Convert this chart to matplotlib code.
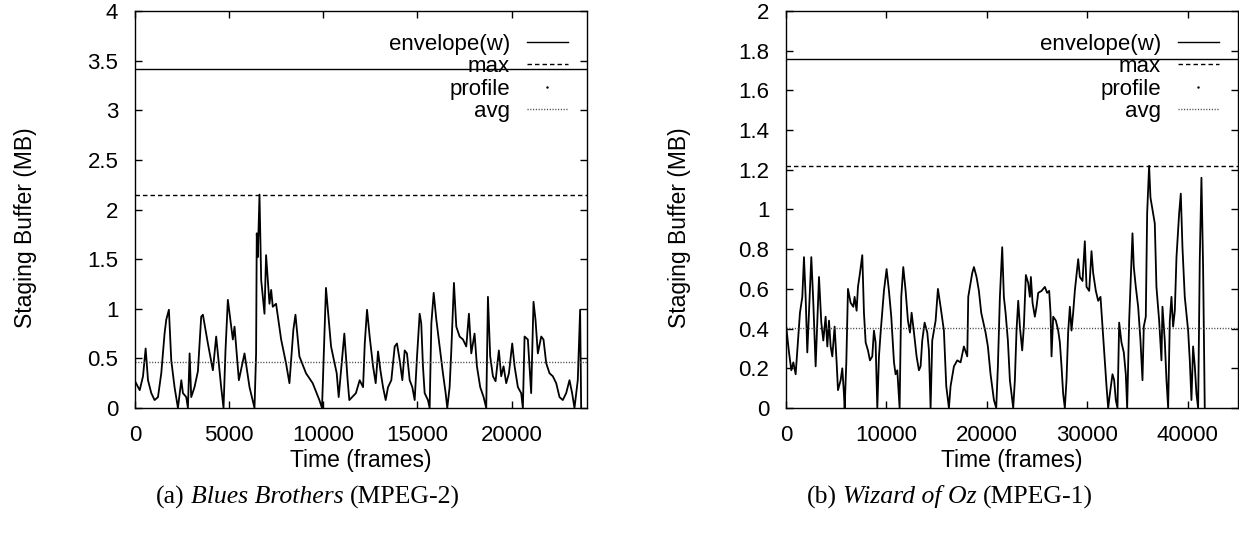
import matplotlib
matplotlib.use("Agg")
import matplotlib.pyplot as plt
from matplotlib.lines import Line2D
from matplotlib.ticker import MultipleLocator, FuncFormatter

plt.rcParams["font.family"] = ["Liberation Sans", "DejaVu Sans"]

# (a) Blues Brothers - staging buffer profile
bb_frames = [0, 250, 425, 565, 690, 865, 1040, 1220, 1395, 1570, 1660, 1800,
             1925, 2100, 2280, 2460, 2545, 2720, 2810, 2900, 2985, 3160, 3340,
             3515, 3605, 3870, 4135, 4310, 4575, 4700, 4805, 4930, 5105, 5195,
             5285, 5515, 5815, 6080, 6345, 6430, 6465, 6520, 6610, 6700, 6875,
             6960, 7140, 7230, 7315, 7490, 7760, 8020, 8200, 8410, 8520, 8730,
             9080, 9435, 9790, 9930, 10140, 10410, 10710, 10815, 11115, 11290,
             11380, 11730, 11930, 12110, 12200, 12320, 12460, 12640, 12780,
             12905, 13030, 13170, 13310, 13435, 13610, 13790, 13910, 14055,
             14195, 14320, 14440, 14585, 14725, 14850, 14975, 15115, 15200,
             15290, 15380, 15555, 15645, 15735, 15860, 16000, 16175, 16350,
             16495, 16580, 16705, 16795, 16935, 17060, 17235, 17415, 17590,
             17730, 17855, 18030, 18155, 18330, 18510, 18650, 18740, 18860,
             19005, 19145, 19320, 19445, 19570, 19710, 19855, 20030, 20155,
             20330, 20505, 20595, 20685, 20860, 21035, 21160, 21265, 21390,
             21570, 21690, 21835, 22010, 22185, 22365, 22540, 22715, 22895,
             23070, 23210, 23335, 23510, 23635, 23690]
bb_mb = [0.27, 0.18, 0.32, 0.60, 0.28, 0.15, 0.08, 0.11, 0.35, 0.75, 0.89, 0.99,
         0.48, 0.21, 0.00, 0.28, 0.15, 0.11, 0.00, 0.55, 0.11, 0.21, 0.37,
         0.92, 0.94, 0.65, 0.38, 0.72, 0.21, 0.00, 0.58, 1.09, 0.82, 0.69,
         0.82, 0.28, 0.55, 0.21, 0.00, 0.55, 1.76, 1.52, 2.15, 1.29, 0.95,
         1.54, 1.05, 1.19, 1.02, 1.05, 0.69, 0.45, 0.25, 0.79, 0.94, 0.52,
         0.35, 0.25, 0.08, 0.00, 1.21, 0.62, 0.35, 0.11, 0.75, 0.28,
         0.08, 0.15, 0.28, 0.21, 0.65, 0.99, 0.72, 0.42, 0.25,
         0.57, 0.38, 0.21, 0.08, 0.21, 0.28, 0.62, 0.65, 0.48,
         0.28, 0.58, 0.55, 0.28, 0.21, 0.08, 0.52, 0.95, 0.85,
         0.42, 0.15, 0.08, 0.00, 0.85, 1.16, 0.89, 0.62, 0.35,
         0.15, 0.00, 0.21, 0.58, 1.26, 0.82, 0.72, 0.69, 0.62,
         0.95, 0.55, 0.75, 0.42, 0.21, 0.11, 0.00, 1.12, 0.52,
         0.32, 0.27, 0.58, 0.32, 0.42, 0.25, 0.35, 0.65, 0.42,
         0.21, 0.15, 0.00, 0.72, 0.69, 0.15, 1.07, 0.89, 0.55,
         0.72, 0.69, 0.45, 0.35, 0.32, 0.25, 0.11, 0.08, 0.15,
         0.28, 0.15, 0.00, 0.28, 0.99, 0.00]
bb_envelope = 3.42
bb_max = 2.15
bb_avg = 0.46

# (b) Wizard of Oz
woz_frames = [0, 20, 130, 300, 530, 730, 960, 1195, 1390, 1625, 1790, 1955,
              2120, 2290, 2520, 2720, 2950, 3120, 3285, 3515, 3715, 3945, 4115,
              4280, 4445, 4610, 4840, 5040, 5175, 5440, 5605, 5770, 5840, 6005,
              6170, 6435, 6700, 6830, 7030, 7165, 7365, 7595, 7760, 7930, 8160,
              8360, 8590, 8755, 8920, 9090, 9255, 9420, 9750, 10015, 10250,
              10480, 10750, 10910, 11080, 11310, 11475, 11675, 11910, 12140,
              12340, 12505, 12740, 13000, 13235, 13400, 13565, 13800, 14065,
              14230, 14395, 14560, 14895, 15125, 15390, 15720, 15955, 16220,
              16385, 16720, 17050, 17380, 17710, 18045, 18145, 18540, 18710,
              18970, 19205, 19435, 19870, 20100, 20365, 20700, 20930, 21095,
              21295, 21525, 21690, 21860, 22090, 22290, 22620, 22785, 22950,
              23120, 23285, 23515, 23680, 23880, 24110, 24280, 24380, 24545,
              24775, 24940, 25110, 25440, 25770, 26000, 26200, 26335, 26435,
              26600, 26865, 27100, 27265, 27430, 27595, 27760, 27925, 28090,
              28260, 28425, 28590, 28755, 29090, 29255, 29520, 29750, 29920,
              30185, 30415, 30580, 30845, 31080, 31310, 31510, 31740, 31910,
              32075, 32240, 32505, 32670, 32835, 33000, 33170, 33400, 33630,
              33830, 33965, 34165, 34495, 34625, 34825, 35060, 35290, 35490,
              35620, 35820, 35955, 36150, 36285, 36485, 36715, 36880, 37150,
              37380, 37480, 37710, 37880, 38045, 38210, 38375, 38540, 38710,
              38875, 39140, 39305, 39470, 39700, 40035, 40200, 40365, 40530,
              40700, 40865, 41030, 41195, 41360, 41525, 41690]
woz_mb = [0.00, 0.41, 0.36, 0.28, 0.19, 0.23, 0.17, 0.34, 0.48, 0.56, 0.76, 0.56,
          0.28, 0.48, 0.76, 0.53, 0.21, 0.44, 0.66, 0.43, 0.34, 0.46, 0.31,
          0.44, 0.31, 0.26, 0.41, 0.23, 0.09, 0.14, 0.20, 0.07, 0.00, 0.23,
          0.60, 0.53, 0.51, 0.56, 0.49, 0.61, 0.68, 0.77, 0.48, 0.33, 0.29,
          0.24, 0.26, 0.39, 0.33, 0.00, 0.26, 0.38, 0.59, 0.70, 0.59,
          0.46, 0.23, 0.17, 0.19, 0.00, 0.56, 0.71, 0.59, 0.44,
          0.38, 0.48, 0.38, 0.26, 0.19, 0.21, 0.34, 0.43, 0.38,
          0.29, 0.00, 0.34, 0.44, 0.60, 0.51, 0.39, 0.11, 0.00,
          0.11, 0.21, 0.24, 0.23, 0.31, 0.26, 0.56, 0.68, 0.71,
          0.66, 0.59, 0.48, 0.38, 0.31, 0.17, 0.04, 0.00, 0.21,
          0.56, 0.81, 0.56, 0.48, 0.34, 0.14, 0.00, 0.14, 0.39,
          0.54, 0.41, 0.29, 0.41, 0.67, 0.63, 0.56, 0.66, 0.53,
          0.46, 0.51, 0.58, 0.59, 0.61, 0.58, 0.59, 0.48, 0.26,
          0.46, 0.44, 0.39, 0.33, 0.21, 0.07, 0.00, 0.14, 0.38,
          0.51, 0.39, 0.48, 0.59, 0.75, 0.66, 0.64, 0.84, 0.61,
          0.59, 0.79, 0.68, 0.59, 0.54, 0.56, 0.41, 0.24, 0.11,
          0.00, 0.07, 0.17, 0.14, 0.04, 0.00, 0.43, 0.33, 0.28,
          0.17, 0.00, 0.44, 0.88, 0.71, 0.61, 0.51, 0.34, 0.14,
          0.41, 0.46, 0.98, 1.22, 1.06, 1.00, 0.93, 0.61, 0.44,
          0.24, 0.51, 0.34, 0.14, 0.00, 0.44, 0.56, 0.41, 0.49,
          0.76, 0.98, 1.08, 0.81, 0.56, 0.39, 0.24, 0.04, 0.31,
          0.21, 0.07, 0.00, 0.75, 1.16, 0.71, 0.00]
woz_envelope = 1.757
woz_max = 1.22
woz_avg = 0.405

W, H = 1239, 534
fig = plt.figure(figsize=(W / 100, H / 100), dpi=100)


def add_axes_px(left, top, right, bottom):
    return fig.add_axes([left / W, 1 - bottom / H, (right - left) / W, (bottom - top) / H])


def draw_panel(ax, frames, mb, env, mx, avg, xmax, xstep, ymax, ystep, ylab_x):
    ax.plot(frames, mb, color="black", lw=1.3, zorder=2)
    ax.axhline(env, color="black", lw=1.0)
    ax.axhline(mx, color="black", lw=1.0, ls=(0, (3.2, 2.2)))
    ax.axhline(avg, color="#444444", lw=1.0, ls=(0, (0.8, 1.2)))

    ax.set_xlim(0, xmax)
    ax.set_ylim(0, ymax)
    ax.xaxis.set_major_locator(MultipleLocator(xstep))
    ax.yaxis.set_major_locator(MultipleLocator(ystep))
    ax.yaxis.set_major_formatter(FuncFormatter(lambda v, p: "%g" % round(v, 2)))
    ax.tick_params(direction="in", top=True, right=True, length=5, width=1,
                   labelsize=16, colors="black")
    ax.tick_params(axis="x", pad=12)
    ax.tick_params(axis="y", pad=12)
    for s in ax.spines.values():
        s.set_linewidth(1.0)

    ax.set_xlabel("Time (frames)", fontsize=16.5)
    ax.xaxis.label.set_va("center")
    ax.xaxis.set_label_coords(0.5, -0.131)
    ax.set_ylabel("Staging Buffer (MB)", fontsize=16.5)
    ax.yaxis.label.set_va("center")
    ax.yaxis.set_label_coords(ylab_x, 0.453)

    handles = [
        Line2D([], [], color="black", lw=1.0),
        Line2D([], [], color="black", lw=1.0, ls=(0, (3.2, 2.2))),
        Line2D([], [], color="black", marker=".", markersize=1.5, ls="none"),
        Line2D([], [], color="#444444", lw=1.0, ls=(0, (0.8, 1.2))),
    ]
    ax.legend(handles, ["envelope(w)", "max", "profile", "avg"],
              loc="upper right", bbox_to_anchor=(1, 1 - 4 / 397),
              frameon=False, markerfirst=False, fontsize=16,
              handlelength=1.86, handletextpad=0.75, borderaxespad=0.85,
              borderpad=0, labelspacing=0.06)


ax1 = add_axes_px(135, 11, 587, 408)
ax2 = add_axes_px(786, 11, 1238, 408)
draw_panel(ax1, bb_frames, bb_mb, bb_envelope, bb_max, bb_avg, 24000, 5000, 4, 0.5, -0.243)
draw_panel(ax2, woz_frames, woz_mb, woz_envelope, woz_max, woz_avg, 45000, 10000, 2, 0.2, -0.236)

# captions with italic titles
renderer = fig.canvas.get_renderer()
cap_size = 18.5


def caption(xc, yc, parts):
    gap = 0.25 * cap_size * 100 / 72
    texts = []
    total = 0
    for s, st in parts:
        t = fig.text(0, yc / H, s, fontsize=cap_size, family=["Liberation Serif", "DejaVu Serif"],
                     style=st, va="center", ha="left")
        w = t.get_window_extent(renderer).width
        texts.append((t, w))
        total += w
    total += gap * (len(parts) - 1)
    x = xc - total / 2
    for t, w in texts:
        t.set_x(x / W)
        x += w + gap


caption(308, H - 497, [("(a)", "normal"), ("Blues Brothers", "italic"), ("(MPEG-2)", "normal")])
caption(950, H - 497, [("(b)", "normal"), ("Wizard of Oz", "italic"), ("(MPEG-1)", "normal")])

fig.savefig("out.png", dpi=100)
